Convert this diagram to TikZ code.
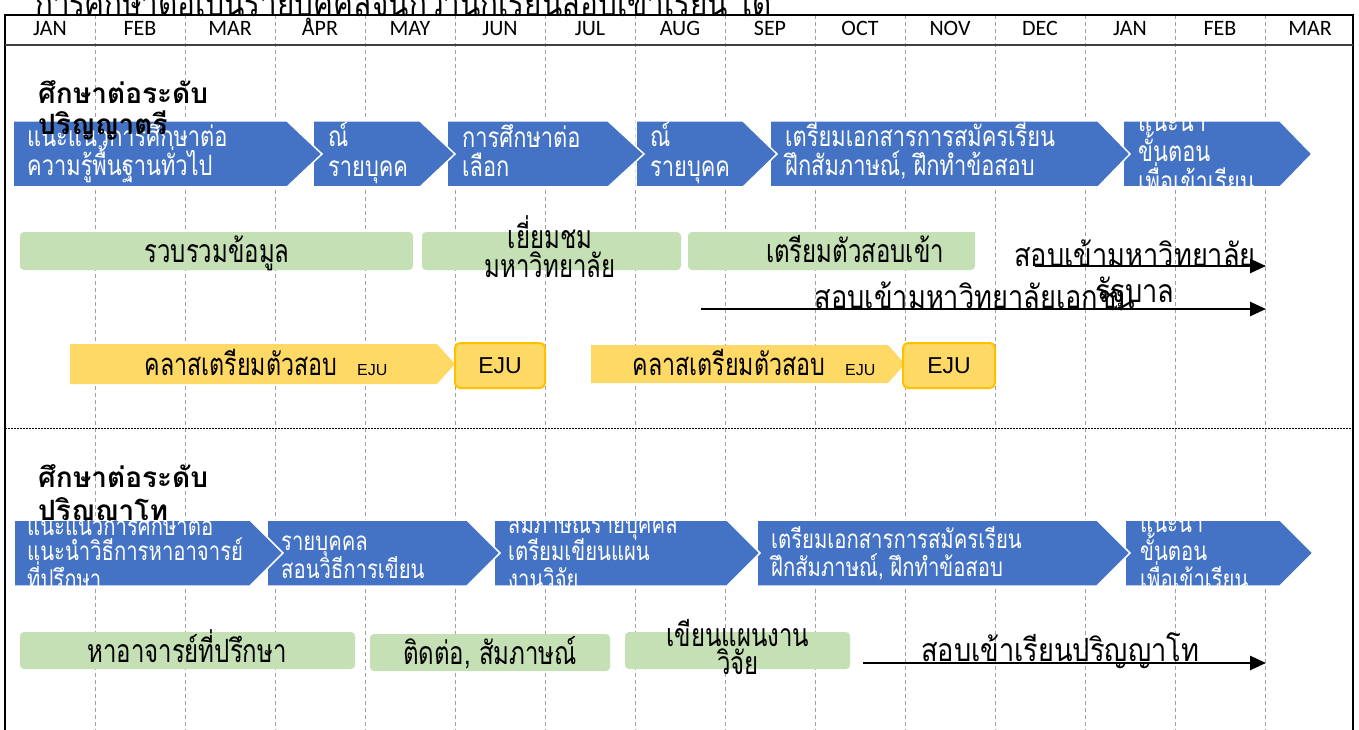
\documentclass[tikz,border=0pt]{standalone}
\usepackage{fontspec}
\setmainfont{Carlito}
\newfontfamily\thai[Script=Thai]{Loma}
\newfontfamily\thaiC[Script=Thai,FakeStretch=0.78]{Loma}
\newfontfamily\thaiG[Script=Thai,FakeStretch=0.75]{Loma}
\newfontfamily\thaiA[Script=Thai,FakeStretch=0.85]{Loma}
\newfontfamily\thaiT[Script=Thai,FakeStretch=0.78]{Loma}
\newfontfamily\arial{Liberation Sans}
\usetikzlibrary{arrows.meta}
\definecolor{cblue}{HTML}{4472C4}
\definecolor{cgreen}{HTML}{C5E0B4}
\definecolor{cyellow}{HTML}{FFD966}
\definecolor{cgold}{HTML}{FFC000}
\definecolor{cgrid}{HTML}{A0A0A0}
\begin{document}
\begin{tikzpicture}[x=1pt,y=-1pt,
  gridline/.style={cgrid, line width=0.8pt, dash pattern=on 4pt off 3pt},
  chev/.style={fill=cblue, draw=white, line width=1.5pt},
  ctext/.style={anchor=base west, inner sep=0pt, text=white, font=\thaiC\fontsize{28}{29}\selectfont},
  ctextb/.style={anchor=base west, inner sep=0pt, text=white, font=\thaiC\fontsize{26}{27}\selectfont},
  month/.style={anchor=base, inner sep=0pt, font=\fontsize{22}{22}\selectfont},
  head/.style={anchor=base west, inner sep=0pt, font=\thai\bfseries\fontsize{28}{30}\selectfont},
  gbox/.style={fill=cgreen, draw=none, rounded corners=4pt, inner sep=0pt},
  gtext/.style={anchor=base, inner sep=0pt, font=\thaiG\fontsize{32}{32}\selectfont},
  ytext/.style={anchor=base, inner sep=0pt, font=\thaiG\fontsize{31}{31}\selectfont},
  ybox/.style={fill=cyellow, draw=none},
  ejubox/.style={fill=cyellow, draw=cgold, line width=2pt, rounded corners=5pt, inner sep=0pt},
  atext/.style={anchor=base, inner sep=0pt, font=\thaiA\fontsize{32}{32}\selectfont},
  timearrow/.style={line width=2.5pt, -{Triangle[length=16pt,width=14pt]}}
]
\useasboundingbox (0,0) rectangle (1359,730);
\fill[white] (0,0) rectangle (1359,730);
% grid
\foreach \i in {1,...,14} \draw[gridline] (5+90*\i,15) -- (5+90*\i,730);
% frame
\draw[line width=1.2pt] (5,730) -- (5,15) -- (1353,15) -- (1353,730);
\draw[line width=2pt, black!75] (5,45) -- (1353,45);
\draw[line width=0.8pt, dash pattern=on 1.5pt off 1.5pt] (5,428) -- (1353,428);
% months
\foreach \m [count=\k from 0] in {JAN,FEB,MAR,APR,MAY,JUN,JUL,AUG,SEP,OCT,NOV,DEC,JAN,FEB,MAR}
  \node[month] (m\k) at (50+90*\k,36) {\m};
% title
\node[anchor=base west, inner sep=0pt, font=\thaiT\fontsize{38}{38}\selectfont] (title) at (35,17) {การศึกษาต่อเป็นรายบุคคลจนกว่านักเรียนสอบเข้าเรียน ได้};

% ===== Row 1 chevrons (drawn right to left) =====
\begin{scope}
\path[chev] (1123,121) -- (1280,121) -- (1312,154) -- (1280,187) -- (1123,187) -- cycle;
\clip (1123,121) -- (1280,121) -- (1312,154) -- (1280,187) -- (1123,187) -- cycle;
\node[ctext] (c6a) at (1138,132) {แนะนำ};
\node[ctext] (c6b) at (1138,162) {ขั้นตอน};
\node[ctext] (c6c) at (1138,192) {เพื่อเข้าเรียน};
\end{scope}
\path[chev] (770,121) -- (1098,121) -- (1130,154) -- (1098,187) -- (770,187) -- cycle;
\node[ctext] (c5a) at (785,147) {เตรียมเอกสารการสมัครเรียน};
\node[ctext] (c5b) at (785,176) {ฝึกสัมภาษณ์, ฝึกทำข้อสอบ};
\path[chev] (636,121) -- (743,121) -- (777,154) -- (743,187) -- (636,187) -- cycle;
\node[ctext] (c4a) at (650,147) {ณ์};
\node[ctext] (c4b) at (650,177) {รายบุคค};
\path[chev] (447,121) -- (608,121) -- (644,154) -- (608,187) -- (447,187) -- cycle;
\node[ctext] (c3a) at (462,148) {การศึกษาต่อ};
\node[ctext] (c3b) at (462,177) {เลือก};
\path[chev] (313,121) -- (420,121) -- (455,154) -- (420,187) -- (313,187) -- cycle;
\node[ctext] (c2a) at (328,147) {ณ์};
\node[ctext] (c2b) at (328,177) {รายบุคค};
\path[chev] (13,121) -- (287,121) -- (322,154) -- (287,187) -- (13,187) -- cycle;
\node[ctext] (c1a) at (27,147) {แนะแนวการศึกษาต่อ};
\node[ctext] (c1b) at (27,176) {ความรู้พื้นฐานทั่วไป};
% heading 1
\node[head] (h1a) at (38,104) {ศึกษาต่อระดับ};
\node[head] (h1b) at (38,135) {ปริญญาตรี};

% ===== green row 1 =====
\node[gbox, minimum width=393pt, minimum height=38pt] (g1) at (216.5,251) {};
\node[gtext] (g1t) at (217,262) {รวบรวมข้อมูล};
\node[gbox, minimum width=259pt, minimum height=38pt] (g2) at (551.5,251) {};
\node[gtext] (g2a) at (550,248) {เยี่ยมชม};
\node[gtext] (g2b) at (550,277) {มหาวิทยาลัย};
\fill[cgreen, rounded corners=4pt] (688,232) -- (688,270) -- (975,270) [sharp corners] -- (975,232) [rounded corners=4pt] -- cycle;
\node[gtext] (g3t) at (855,262) {เตรียมตัวสอบเข้า};

% arrows row 1
\coordinate (a1s) at (1035,266);
\coordinate (a1e) at (1266,266);
\draw[timearrow] (a1s) -- (a1e);
\node[atext] (a1t) at (1135,266) {สอบเข้ามหาวิทยาลัย};
\node[atext] (a1u) at (1135,302) {รัฐบาล};
\coordinate (a2s) at (701,309);
\coordinate (a2e) at (1266,309);
\draw[timearrow] (a2s) -- (a2e);
\node[atext] (a2t) at (975,308) {สอบเข้ามหาวิทยาลัยเอกชน};

% ===== yellow row =====
\path[ybox] (70,344) -- (437,344) -- (455,364) -- (437,384) -- (70,384) -- cycle;
\node[ytext] (y1t) at (266,375) {คลาสเตรียมตัวสอบ\hspace{20pt}{\arial\fontsize{16}{16}\selectfont EJU}};
\node[ejubox, minimum width=90pt, minimum height=45pt] (e1) at (500,365.5) {\arial\fontsize{23}{23}\selectfont EJU};
\path[ybox] (591,345) -- (888,345) -- (905,364) -- (888,383) -- (591,383) -- cycle;
\node[ytext] (y2t) at (754,375) {คลาสเตรียมตัวสอบ\hspace{20pt}{\arial\fontsize{16}{16}\selectfont EJU}};
\node[ejubox, minimum width=92pt, minimum height=45pt] (e2) at (949,365.5) {\arial\fontsize{23}{23}\selectfont EJU};

% ===== Row 2 chevrons =====
\begin{scope}
\path[chev] (1125,520) -- (1280,520) -- (1313,553) -- (1280,586) -- (1125,586) -- cycle;
\clip (1125,520) -- (1280,520) -- (1313,553) -- (1280,586) -- (1125,586) -- cycle;
\node[ctextb] (d5a) at (1140,532) {แนะนำ};
\node[ctextb] (d5b) at (1140,560) {ขั้นตอน};
\node[ctextb] (d5c) at (1140,588) {เพื่อเข้าเรียน};
\end{scope}
\path[chev] (757,520) -- (1097,520) -- (1130,553) -- (1097,586) -- (757,586) -- cycle;
\node[ctextb] (d4a) at (771,548) {เตรียมเอกสารการสมัครเรียน};
\node[ctextb] (d4b) at (771,576) {ฝึกสัมภาษณ์, ฝึกทำข้อสอบ};
\begin{scope}
\path[chev] (494,520) -- (727,520) -- (760,553) -- (727,586) -- (494,586) -- cycle;
\clip (494,520) -- (727,520) -- (760,553) -- (727,586) -- (494,586) -- cycle;
\node[ctextb] (d3a) at (508,533) {สัมภาษณ์รายบุคคล};
\node[ctextb] (d3b) at (508,560) {เตรียมเขียนแผน};
\node[ctextb] (d3c) at (508,588) {งานวิจัย};
\end{scope}
\path[chev] (267,520) -- (467,520) -- (500,553) -- (467,586) -- (267,586) -- cycle;
\node[ctextb] (d2a) at (281,550) {รายบุคคล};
\node[ctextb] (d2b) at (281,578) {สอนวิธีการเขียน};
\begin{scope}
\path[chev] (14,520) -- (250,520) -- (283,553) -- (250,586) -- (14,586) -- cycle;
\clip (14,520) -- (250,520) -- (283,553) -- (250,586) -- (14,586) -- cycle;
\node[ctextb] (d1a) at (27,535) {แนะแนวการศึกษาต่อ};
\node[ctextb] (d1b) at (27,560) {แนะนำวิธีการหาอาจารย์};
\node[ctextb] (d1c) at (27,588) {ที่ปรึกษา};
\end{scope}
% heading 2
\begin{scope}
\clip (0,440) rectangle (300,520);
\node[head] (h2a) at (38,487) {ศึกษาต่อระดับ};
\node[head] (h2b) at (38,520) {ปริญญาโท};
\end{scope}

% ===== green row 2 =====
\node[gbox, minimum width=335pt, minimum height=37pt] (k1) at (187.5,650.5) {};
\node[gtext] (k1t) at (187,662) {หาอาจารย์ที่ปรึกษา};
\node[gbox, minimum width=240pt, minimum height=37pt] (k2) at (490,652.5) {};
\node[gtext] (k2t) at (490,664) {ติดต่อ, สัมภาษณ์};
\node[gbox, minimum width=225pt, minimum height=37pt] (k3) at (737.5,650.5) {};
\node[gtext] (k3a) at (738,646) {เขียนแผนงาน};
\node[gtext] (k3b) at (738,674) {วิจัย};

\coordinate (b1s) at (863,663);
\coordinate (b1e) at (1266,663);
\draw[timearrow] (b1s) -- (b1e);
\node[atext] (b1t) at (1060,661) {สอบเข้าเรียนปริญญาโท};
\end{tikzpicture}
\end{document}
